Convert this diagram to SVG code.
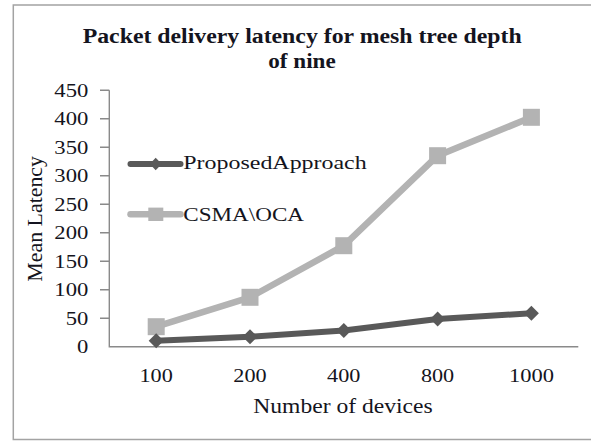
<svg xmlns="http://www.w3.org/2000/svg" width="591" height="441" viewBox="0 0 591 441">
  <style>
    .txt { font-family: "Liberation Serif", "Times New Roman", serif; fill: #141420; }
    .title { font-size: 20px; font-weight: bold; }
    .tick { font-size: 19.5px; }
    .axis-title { font-size: 20px; }
    .legend-text { font-size: 19px; }
    .axis { stroke: #8a8a8a; stroke-width: 1.4; fill: none; }
    .frame { stroke: #a3a3a3; stroke-width: 1.5; fill: none; }
    .series-a { stroke: #595959; stroke-width: 6; fill: none; stroke-linejoin: round; stroke-linecap: round; }
    .series-b { stroke: #b3b3b3; stroke-width: 6.5; fill: none; stroke-linejoin: round; stroke-linecap: round; }
    .diamond { fill: #595959; }
    .square { fill: #b3b3b3; }
  </style>
  <defs>
    <polygon id="dia" points="0,-7.5 7.5,0 0,7.5 -7.5,0"/>
    <rect id="sq" x="-8.5" y="-8.5" width="17" height="17"/>
    <polygon id="dia-s" points="0,-6.2 6,0 0,6.2 -6,0"/>
    <rect id="sq-s" x="-7.5" y="-6.7" width="15" height="13.4"/>
  </defs>

  <rect x="0" y="0" width="591" height="441" fill="#ffffff"/>

  <!-- chart frame: open on the right side -->
  <path class="frame" d="M591,5 H13.3 V439.5 H591"/>

  <!-- title -->
  <g id="title">
    <text class="txt title" x="82.7" y="42.7" textLength="439" lengthAdjust="spacingAndGlyphs">Packet delivery latency for mesh tree depth</text>
    <text class="txt title" x="268.3" y="68.3" textLength="67.4" lengthAdjust="spacingAndGlyphs">of nine</text>
  </g>

  <!-- axes and value ticks -->
  <g id="axes">
    <path class="axis" d="M109.3,90.3 V346.7 H578.3"/>
    <path class="axis" d="M100,90.3 H109.3 M100,118.8 H109.3 M100,147.3 H109.3 M100,175.8 H109.3 M100,204.3 H109.3 M100,232.7 H109.3 M100,261.2 H109.3 M100,289.7 H109.3 M100,318.2 H109.3"/>
  </g>

  <!-- value axis labels -->
  <g id="y-labels" class="txt tick">
    <text x="54.3" y="96.7" textLength="34" lengthAdjust="spacingAndGlyphs">450</text>
    <text x="54.3" y="125.2" textLength="34" lengthAdjust="spacingAndGlyphs">400</text>
    <text x="54.3" y="153.7" textLength="34" lengthAdjust="spacingAndGlyphs">350</text>
    <text x="54.3" y="182.2" textLength="34" lengthAdjust="spacingAndGlyphs">300</text>
    <text x="54.3" y="210.7" textLength="34" lengthAdjust="spacingAndGlyphs">250</text>
    <text x="54.3" y="239.1" textLength="34" lengthAdjust="spacingAndGlyphs">200</text>
    <text x="54.3" y="267.6" textLength="34" lengthAdjust="spacingAndGlyphs">150</text>
    <text x="54.3" y="296.1" textLength="34" lengthAdjust="spacingAndGlyphs">100</text>
    <text x="65.7" y="324.6" textLength="22.6" lengthAdjust="spacingAndGlyphs">50</text>
    <text x="77" y="353.1" textLength="11.3" lengthAdjust="spacingAndGlyphs">0</text>
  </g>

  <!-- category axis labels -->
  <g id="x-labels" class="txt tick">
    <text x="139.5" y="381.7" textLength="33.3" lengthAdjust="spacingAndGlyphs">100</text>
    <text x="233.3" y="381.7" textLength="33.3" lengthAdjust="spacingAndGlyphs">200</text>
    <text x="327.1" y="381.7" textLength="33.3" lengthAdjust="spacingAndGlyphs">400</text>
    <text x="420.9" y="381.7" textLength="33.3" lengthAdjust="spacingAndGlyphs">800</text>
    <text x="508.9" y="381.7" textLength="45" lengthAdjust="spacingAndGlyphs">1000</text>
  </g>

  <!-- axis titles -->
  <g id="axis-titles" class="txt axis-title">
    <text x="253.3" y="413.3" textLength="179.4" lengthAdjust="spacingAndGlyphs">Number of devices</text>
    <text transform="translate(41.7,281.7) rotate(-90)" x="0" y="0" textLength="125.7" lengthAdjust="spacingAndGlyphs">Mean Latency</text>
  </g>

  <!-- data series -->
  <g id="connectors">
    <polyline id="line-csma" class="series-b" points="156.2,326.7 250,297.3 343.8,245.7 437.6,155.7 531.4,117.3"/>
    <polyline id="line-proposed" class="series-a" points="156.2,340.7 250,336.7 343.8,330.5 437.6,319 531.4,313.3"/>
  </g>

  <g id="markers-csma" class="square">
    <use href="#sq" x="156.2" y="326.7"/>
    <use href="#sq" x="250" y="297.3"/>
    <use href="#sq" x="343.8" y="245.7"/>
    <use href="#sq" x="437.6" y="155.7"/>
    <use href="#sq" x="531.4" y="117.3"/>
  </g>

  <g id="markers-proposed" class="diamond">
    <use href="#dia" x="156.2" y="340.7"/>
    <use href="#dia" x="250" y="336.7"/>
    <use href="#dia" x="343.8" y="330.5"/>
    <use href="#dia" x="437.6" y="319"/>
    <use href="#dia" x="531.4" y="313.3"/>
  </g>

  <!-- legend -->
  <g id="legend-proposed">
    <line class="series-a" x1="130.5" y1="164" x2="180.5" y2="164" stroke-width="5.3"/>
    <use href="#dia-s" x="155.7" y="164" class="diamond"/>
    <text class="txt legend-text" x="183.3" y="169" textLength="183.4" lengthAdjust="spacingAndGlyphs">ProposedApproach</text>
  </g>
  <g id="legend-csma">
    <line class="series-b" x1="130.5" y1="214.3" x2="180.5" y2="214.3" stroke-width="5.6"/>
    <use href="#sq-s" x="155.8" y="214.3" class="square"/>
    <text class="txt legend-text" x="183.3" y="220.7" textLength="120.7" lengthAdjust="spacingAndGlyphs">CSMA\OCA</text>
  </g>
</svg>
